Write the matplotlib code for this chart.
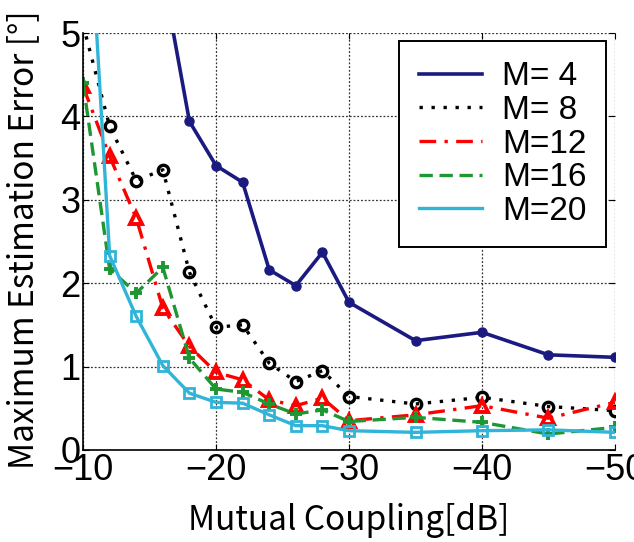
import matplotlib
matplotlib.use("Agg")
import matplotlib.pyplot as plt
import numpy as np

plt.rcParams['font.family'] = ['Noto Sans CJK JP', 'DejaVu Sans']

coupling = [-10, -12, -14, -16, -18, -20, -22, -24, -26, -28, -30, -35, -40, -45, -50]

m4 = [None, None, None, 5.7, 3.94, 3.41, 3.21, 2.16, 1.97, 2.37, 1.77, 1.31, 1.41, 1.14, 1.11]
m8 = [5.1, 3.88, 3.23, 3.36, 2.13, 1.47, 1.50, 1.04, 0.82, 0.95, 0.64, 0.55, 0.63, 0.52, 0.47]
m12 = [4.36, 3.52, 2.78, 1.70, 1.24, 0.93, 0.84, 0.60, 0.53, 0.62, 0.35, 0.42, 0.53, 0.38, 0.57]
m16 = [4.40, 2.17, 1.88, 2.19, 1.10, 0.73, 0.69, 0.55, 0.43, 0.48, 0.34, 0.39, 0.33, 0.19, 0.27]
m20 = [7.8, 2.33, 1.60, 1.01, 0.68, 0.57, 0.56, 0.42, 0.29, 0.29, 0.23, 0.21, 0.23, 0.24, 0.21]

labels = ['M= 4', 'M= 8', 'M=12', 'M=16', 'M=20']
x_ticks = [-10, -20, -30, -40, -50]
y_ticks = [0, 1, 2, 3, 4, 5]

fig = plt.figure(figsize=(6.34, 5.42), dpi=100)
ax = fig.add_axes([0.131, 0.170, 0.839, 0.769])

def arr(v):
    return np.array([np.nan if a is None else a for a in v], dtype=float)

styles = [
    dict(color='#1a1a80', ls='-', lw=2.6, marker='o', ms=6.5, mfc='#1a1a80', mec='#1a1a80'),
    dict(color='black', ls=(0, (1, 2.6)), lw=2.4, marker='o', ms=7.5, mfc='none', mec='black', mew=2.4),
    dict(color='#ff0000', ls=(0, (5, 2.5, 1, 2.5)), lw=2.4, marker='^', ms=9, mfc='none', mec='#ff0000', mew=2.8),
    dict(color='#1e9632', ls=(0, (4, 2)), lw=2.4, marker='+', ms=9, mec='#1e9632', mew=2.8),
    dict(color='#30b4d8', ls='-', lw=2.4, marker='s', ms=6.5, mfc='none', mec='#30b4d8', mew=2.0),
]

handles = []
for data, lab, st in zip([m4, m8, m12, m16, m20], labels, styles):
    ax.plot(coupling, arr(data), clip_on=True, **st)
    h, = ax.plot([], [], color=st['color'], ls=st['ls'], lw=st['lw'], label=lab)
    handles.append(h)

ax.set_xlim(-10, -50)
ax.set_ylim(0, 5)
ax.set_xticks(x_ticks)
ax.set_yticks(y_ticks)
ax.set_xticklabels(['\u2212' + str(abs(t)) for t in x_ticks])
ax.grid(True, color='black', ls=(0, (1.5, 1.5)), lw=0.9, alpha=0.8)
ax.spines['top'].set_visible(False)
ax.spines['right'].set_visible(False)
ax.spines['left'].set_linewidth(1.2)
ax.spines['bottom'].set_linewidth(1.2)
ax.tick_params(direction='in', length=4, labelsize=26, pad=2, top=True, right=True)
for lab in ax.get_xticklabels() + ax.get_yticklabels():
    lab.set_fontfamily(['Liberation Sans', 'DejaVu Sans'])

ax.set_xlabel('Mutual Coupling[dB]', fontsize=24, labelpad=11)
ax.set_ylabel('Maximum Estimation Error [°]', fontsize=24)
ax.yaxis.set_label_coords(-0.078, 0.505)

leg = ax.legend(handles=handles, loc='upper right', bbox_to_anchor=(0.984, 0.98),
                prop={'family': ['Liberation Sans', 'DejaVu Sans'], 'size': 24},
                frameon=True, fancybox=False, edgecolor='black',
                handlelength=1.9, handletextpad=0.6, labelspacing=0.08, borderpad=0.6,
                borderaxespad=0)
leg.get_frame().set_linewidth(1.4)
leg.get_frame().set_alpha(1)

fig.savefig('out.png', dpi=100)
